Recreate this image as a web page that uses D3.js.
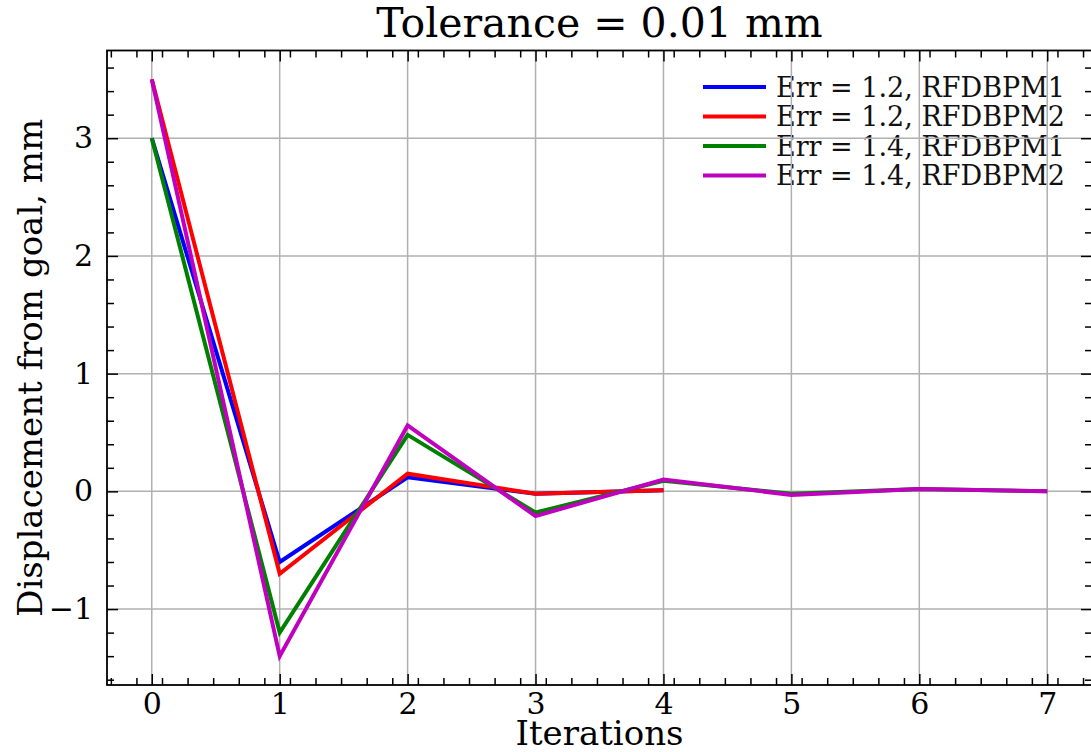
<!DOCTYPE html>
<html>
<head>
<meta charset="utf-8">
<script src="https://cdn.jsdelivr.net/npm/d3@7"></script>
<style>
  body { margin: 0; background: #fff; }
  svg { display: block; font-family: "DejaVu Serif", serif; }
</style>
</head>
<body>
<svg id="chart" width="1091" height="752"></svg>
<script>
// data
var iterations = [0, 1, 2, 3, 4, 5, 6, 7];
var err12_bpm1 = [3.0, -0.6, 0.12, -0.02, 0.01];
var err12_bpm2 = [3.5, -0.7, 0.15, -0.02, 0.01];
var err14_bpm1 = [3.0, -1.2, 0.48, -0.18, 0.09, -0.02, 0.02, 0.0];
var err14_bpm2 = [3.5, -1.4, 0.56, -0.21, 0.10, -0.03, 0.02, 0.0];
var seriesNames = ["Err = 1.2, RFDBPM1", "Err = 1.2, RFDBPM2", "Err = 1.4, RFDBPM1", "Err = 1.4, RFDBPM2"];
var seriesColors = ["#0000ff", "#ff0000", "#008000", "#bf00bf"];
var xTicks = [0, 1, 2, 3, 4, 5, 6, 7];
var yTicks = [-1, 0, 1, 2, 3];

var series = [err12_bpm1, err12_bpm2, err14_bpm1, err14_bpm2];

var margin = {top: 50.5, right: -1, bottom: 67, left: 107},
    W = 1091, H = 752;

var svg = d3.select("#chart");

var x = d3.scaleLinear().domain([-0.35, 7.35]).range([margin.left, W - margin.right]);
var y = d3.scaleLinear().domain([-1.645, 3.745]).range([H - margin.bottom, margin.top]);

var x0 = x.range()[0], x1 = x.range()[1], y0 = y.range()[0], y1 = y.range()[1];

// minor tick positions every 0.2
var xMinor = d3.range(-1.6, 37.1, 1).map(d => +(d * 0.2).toFixed(2)).filter(d => d > -0.35 && d < 7.35 && Math.abs(d - Math.round(d)) > 1e-6);
var yMinor = d3.range(-8, 19, 1).map(d => +(d * 0.2).toFixed(2)).filter(d => d > -1.645 && d < 3.745 && Math.abs(d - Math.round(d)) > 1e-6);

// legend (drawn under grid, like the reference)
var legend = svg.append("g").attr("transform", "translate(703, 87)");
seriesNames.forEach(function (name, i) {
  var row = legend.append("g").attr("transform", `translate(0, ${i * 29.5})`);
  row.append("line")
    .attr("x1", 0).attr("x2", 63)
    .attr("stroke", seriesColors[i])
    .attr("stroke-width", 4);
  row.append("text")
    .attr("x", 73).attr("y", 9.5)
    .attr("font-size", "27px")
    .attr("fill", "#111")
    .text(name);
});

// grid
var grid = svg.append("g").attr("stroke", "#b0b0b0").attr("stroke-width", 1.5);
grid.selectAll(".gx").data(xTicks).join("line")
  .attr("x1", d => x(d)).attr("x2", d => x(d))
  .attr("y1", y1).attr("y2", y0);
grid.selectAll(".gy").data(yTicks).join("line")
  .attr("x1", x0).attr("x2", x1)
  .attr("y1", d => y(d)).attr("y2", d => y(d));

// lines
var line = d3.line().x((d, i) => x(iterations[i])).y(d => y(d));
svg.append("g").selectAll("path")
  .data(series)
  .join("path")
  .attr("d", d => line(d))
  .attr("fill", "none")
  .attr("stroke", (d, i) => seriesColors[i])
  .attr("stroke-width", 4)
  .attr("stroke-linejoin", "miter");

// axes (ticks pointing inward, on all four sides)
function styleAxis(g) {
  g.select(".domain").remove();
  g.selectAll(".tick line").attr("stroke", "#000").attr("stroke-width", 1.5);
  g.selectAll("text").attr("fill", "#000").attr("font-size", "30px").attr("font-family", "DejaVu Serif, serif");
}

svg.append("g").attr("transform", `translate(0,${y0})`)
  .call(d3.axisBottom(x).tickValues(xTicks).tickSize(-11).tickPadding(8).tickFormat(d3.format("d")))
  .call(styleAxis);
svg.append("g").attr("transform", `translate(0,${y0})`)
  .call(d3.axisBottom(x).tickValues(xMinor).tickSize(-7).tickFormat(""))
  .call(styleAxis);
svg.append("g").attr("transform", `translate(0,${y1})`)
  .call(d3.axisTop(x).tickValues(xTicks).tickSize(-11).tickFormat(""))
  .call(styleAxis);
svg.append("g").attr("transform", `translate(0,${y1})`)
  .call(d3.axisTop(x).tickValues(xMinor).tickSize(-7).tickFormat(""))
  .call(styleAxis);

svg.append("g").attr("transform", `translate(${x0},0)`)
  .call(d3.axisLeft(y).tickValues(yTicks).tickSize(-11).tickPadding(14).tickFormat(d => d < 0 ? "\u2212" + Math.abs(d) : d))
  .call(styleAxis);
svg.append("g").attr("transform", `translate(${x0},0)`)
  .call(d3.axisLeft(y).tickValues(yMinor).tickSize(-7).tickFormat(""))
  .call(styleAxis);
svg.append("g").attr("transform", `translate(${x1},0)`)
  .call(d3.axisRight(y).tickValues(yTicks).tickSize(-11).tickFormat(""))
  .call(styleAxis);
svg.append("g").attr("transform", `translate(${x1},0)`)
  .call(d3.axisRight(y).tickValues(yMinor).tickSize(-7).tickFormat(""))
  .call(styleAxis);

// spines
svg.append("rect")
  .attr("x", x0).attr("y", y1)
  .attr("width", x1 - x0).attr("height", y0 - y1)
  .attr("fill", "none").attr("stroke", "#000").attr("stroke-width", 1.8);

// title and labels
svg.append("text")
  .attr("x", (x0 + x1) / 2).attr("y", 37)
  .attr("text-anchor", "middle")
  .attr("font-size", "41px")
  .attr("fill", "#000")
  .text("Tolerance = 0.01 mm");

svg.append("text")
  .attr("x", (x0 + x1) / 2).attr("y", 745)
  .attr("text-anchor", "middle")
  .attr("font-size", "34px")
  .attr("fill", "#000")
  .text("Iterations");

svg.append("text")
  .attr("transform", `translate(42,${(y0 + y1) / 2}) rotate(-90)`)
  .attr("text-anchor", "middle")
  .attr("font-size", "34px")
  .attr("fill", "#000")
  .text("Displacement from goal, mm");
</script>
</body>
</html>
